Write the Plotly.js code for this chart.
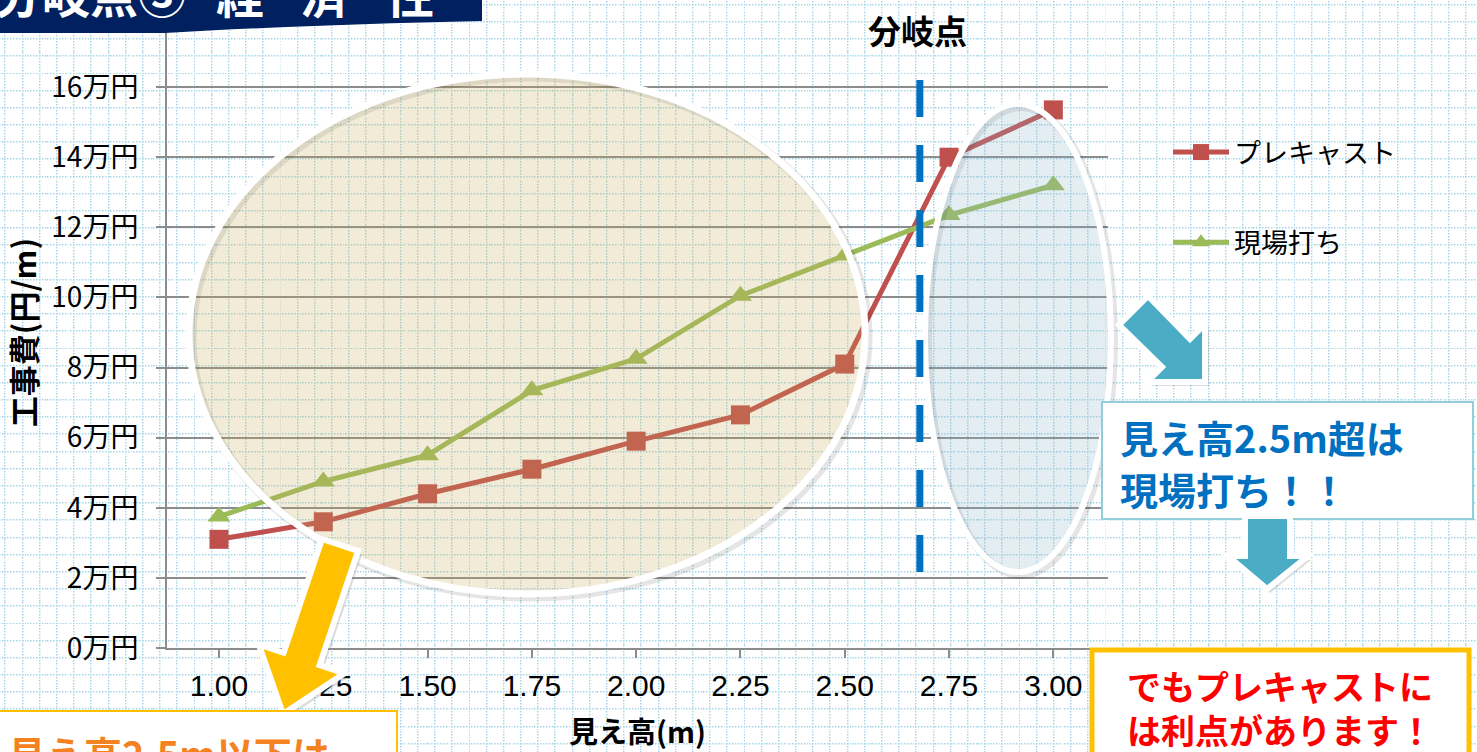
<!DOCTYPE html>
<html>
<head>
<meta charset="utf-8">
<script src="https://cdn.plot.ly/plotly-3.0.1.min.js"></script>
<style>
html,body{margin:0;padding:0;width:1477px;height:752px;overflow:hidden;}
body{
  background-color:#ffffff;
  background-image:url("data:image/svg+xml,%3Csvg xmlns='http://www.w3.org/2000/svg' width='17.2' height='17.2'%3E%3Cline x1='0.7' y1='0' x2='0.7' y2='17.2' stroke='%23a3d5e6' stroke-width='1.4' stroke-dasharray='1.4 1.47'/%3E%3Cline x1='0' y1='0.7' x2='17.2' y2='0.7' stroke='%23a3d5e6' stroke-width='1.4' stroke-dasharray='1.4 1.47'/%3E%3C/svg%3E");
  background-size:17.2px 17.2px;
  background-position:4.5px 3.8px;
}
#chart{width:1477px;height:752px;}
</style>
</head>
<body>
<div id="chart"></div>
<script>
// ---- data ----
const heights = [1.00, 1.25, 1.50, 1.75, 2.00, 2.25, 2.50, 2.75, 3.00];
const precastCost = [3.1, 3.6, 4.4, 5.1, 5.9, 6.65, 8.1, 14.0, 15.35];   // 万円/m
const castInPlaceCost = [3.75, 4.75, 5.5, 7.35, 8.25, 10.05, 11.2, 12.35, 13.2]; // 万円/m
const seriesNames = ["プレキャスト", "現場打ち"];
const yTickVals = [0, 2, 4, 6, 8, 10, 12, 14, 16, 18];
const yTickText = ["0万円", "2万円", "4万円", "6万円", "8万円", "10万円", "12万円", "14万円", "16万円", "18万円"];
const xTickText = ["1.00", "1.25", "1.50", "1.75", "2.00", "2.25", "2.50", "2.75", "3.00"];
const branchPoint = 2.68;

// ---- geometry helpers (pixel -> paper) ----
const W = 1477, H = 752, ML = 167, MR = 369, MT = 17, MB = 104;
const PW = W - ML - MR, PH = H - MT - MB;
const X = px => (px - ML) / PW;
const Y = py => (H - MB - py) / PH;
const path = pts => "M " + pts.map(p => X(p[0]).toFixed(5) + "," + Y(p[1]).toFixed(5)).join(" L ") + " Z";
const shift = (pts, dx, dy) => pts.map(p => [p[0] + dx, p[1] + dy]);

const FONT = "Noto Sans CJK JP, sans-serif";
const red = "#C0504D", green = "#9BBB59";

const traces = [
  {x: heights, y: precastCost, name: seriesNames[0], type: "scatter", mode: "lines+markers",
   line: {color: red, width: 5}, marker: {symbol: "square", size: 19, color: red},
   legendgroup: "a"},
  {x: heights, y: castInPlaceCost, name: seriesNames[1], type: "scatter", mode: "lines+markers",
   line: {color: green, width: 5}, marker: {symbol: "triangle-up", size: 20, color: green},
   legendgroup: "b"}
];

const yellowArrow = [[322,539],[358,551],[319.6,665],[344.4,673.3],[283,714],[258.8,644.5],[283.6,652.8]];
const blueDiag = [[1148,296],[1190,339],[1205,324],[1205,382],[1147,382],[1162,367],[1119,325]];
const blueDown = [[1245,516],[1290,516],[1290,556],[1308,556],[1267,589],[1228,556],[1245,556]];

const shapes = [
  // beige ellipse (shadow ring + body)
  {type: "circle", xref: "paper", yref: "paper", x0: X(192), x1: X(868), y0: Y(77), y1: Y(597),
   fillcolor: "rgba(0,0,0,0)", line: {color: "rgba(0,0,0,0.10)", width: 9}},
  {type: "circle", xref: "paper", yref: "paper", x0: X(189), x1: X(865), y0: Y(74), y1: Y(594),
   fillcolor: "rgba(200,170,90,0.24)", line: {color: "#ffffff", width: 7}},
  // blue ellipse
  {type: "circle", xref: "paper", yref: "paper", x0: X(928), x1: X(1114), y0: Y(107), y1: Y(575),
   fillcolor: "rgba(0,0,0,0)", line: {color: "rgba(0,0,0,0.10)", width: 8}},
  {type: "circle", xref: "paper", yref: "paper", x0: X(925), x1: X(1111), y0: Y(104), y1: Y(572),
   fillcolor: "rgba(140,180,200,0.24)", line: {color: "#ffffff", width: 6}},
  // branch point dashed line
  {type: "line", xref: "x", yref: "paper", x0: branchPoint, x1: branchPoint, y0: Y(80), y1: Y(572),
   line: {color: "#0070C0", width: 7, dash: "37px,28px"}},
  // title banner
  {type: "path", xref: "paper", yref: "paper",
   path: "M " + X(-5) + "," + Y(-5) + " L " + X(482) + "," + Y(-5) + " L " + X(482) + "," + Y(21) +
         " Q " + X(300) + "," + Y(25) + " " + X(165) + "," + Y(33) + " L " + X(-5) + "," + Y(33) + " Z",
   fillcolor: "#002060", line: {width: 0}},
  // yellow arrow (shadow + body)
  {type: "path", xref: "paper", yref: "paper", path: path(shift(yellowArrow, 4, 4)),
   fillcolor: "rgba(120,120,120,0.25)", line: {width: 0}},
  {type: "path", xref: "paper", yref: "paper", path: path(yellowArrow),
   fillcolor: "#FFC000", line: {color: "#ffffff", width: 6}},
  // blue diagonal arrow
  {type: "path", xref: "paper", yref: "paper", path: path(shift(blueDiag, 4, 4)),
   fillcolor: "rgba(120,120,120,0.25)", line: {width: 0}},
  {type: "path", xref: "paper", yref: "paper", path: path(blueDiag),
   fillcolor: "#4BACC6", line: {color: "#ffffff", width: 6}},
  // blue text box
  {type: "rect", xref: "paper", yref: "paper", x0: X(1102), x1: X(1473), y0: Y(402), y1: Y(519),
   fillcolor: "#ffffff", line: {color: "#92CDDC", width: 2}},
  // blue down arrow
  {type: "path", xref: "paper", yref: "paper", path: path(shift(blueDown, 3, 4)),
   fillcolor: "rgba(120,120,120,0.25)", line: {width: 0}},
  {type: "path", xref: "paper", yref: "paper", path: path(blueDown),
   fillcolor: "#4BACC6", line: {color: "#ffffff", width: 6}},
  // red-text box (yellow border)
  {type: "rect", xref: "paper", yref: "paper", x0: X(1092), x1: X(1469), y0: Y(650), y1: Y(760),
   fillcolor: "#ffffff", line: {color: "#FFC000", width: 5}},
  // orange-text box bottom left
  {type: "rect", xref: "paper", yref: "paper", x0: X(-10), x1: X(397), y0: Y(711), y1: Y(770),
   fillcolor: "#ffffff", line: {color: "#FFC000", width: 2}}
];

const ann = (px, py, text, size, color, bold, xanchor) => ({
  xref: "paper", yref: "paper", x: X(px), y: Y(py), text: bold ? "<b>" + text + "</b>" : text,
  showarrow: false, xanchor: xanchor || "center", yanchor: "middle",
  font: {family: FONT, size: size, color: color}
});

const annotations = [
  ann(-8, -8, "分岐点③", 48, "#ffffff", true, "left"),
  ann(240, -8, "経", 48, "#ffffff", true),
  ann(324, -8, "済", 48, "#ffffff", true),
  ann(410, -8, "性", 48, "#ffffff", true),
  ann(917, 30, "分岐点", 33, "#000000", true),
  ann(1118, 436, "見え高2.5m超は", 38, "#0070C0", true, "left"),
  ann(1118, 488, "現場打ち！！", 38, "#0070C0", true, "left"),
  ann(1280, 707, "でもプレキャストに<br>は利点があります！", 34, "#FF0000", true),
  ann(6, 752, "見え高2.5m以下は", 38, "#F58220", true, "left")
];

const layout = {
  width: W, height: H,
  margin: {l: ML, r: MR, t: MT, b: MB, pad: 0},
  paper_bgcolor: "rgba(0,0,0,0)", plot_bgcolor: "rgba(0,0,0,0)",
  font: {family: FONT, color: "#000000"},
  showlegend: true,
  legend: {x: X(1168), y: Y(128), xanchor: "left", yanchor: "top", bgcolor: "rgba(0,0,0,0)",
           font: {family: FONT, size: 27, color: "#000000"}, traceorder: "grouped",
           tracegroupgap: 52, itemwidth: 56},
  xaxis: {range: [0.8754, 3.131], tickvals: heights, ticktext: xTickText,
          showgrid: false, zeroline: false, showline: true, linecolor: "#8c8c8c", linewidth: 2,
          ticks: "outside", ticklen: 8, tickwidth: 2, tickcolor: "#8c8c8c",
          tickfont: {family: "Liberation Sans Narrow, Liberation Sans, sans-serif", size: 30, color: "#000"},
          ticklabelstandoff: 2,
          title: {text: "<b>見え高(m)</b>", font: {family: FONT, size: 29, color: "#000"}, standoff: 22},
          fixedrange: true},
  yaxis: {range: [0, 18], tickvals: yTickVals, ticktext: yTickText,
          showgrid: true, gridcolor: "#8c8c8c", gridwidth: 2, zeroline: false,
          showline: true, linecolor: "#8c8c8c", linewidth: 2,
          ticks: "outside", ticklen: 9, tickwidth: 2, tickcolor: "#8c8c8c",
          tickfont: {family: FONT, size: 28, color: "#000"}, ticklabelstandoff: 12,
          title: {text: "<b>工事費(円/m)</b>", font: {family: FONT, size: 31, color: "#000"}, standoff: 16},
          fixedrange: true},
  shapes: shapes,
  annotations: annotations
};

Plotly.newPlot("chart", traces, layout, {staticPlot: true, displayModeBar: false});
</script>
</body>
</html>
